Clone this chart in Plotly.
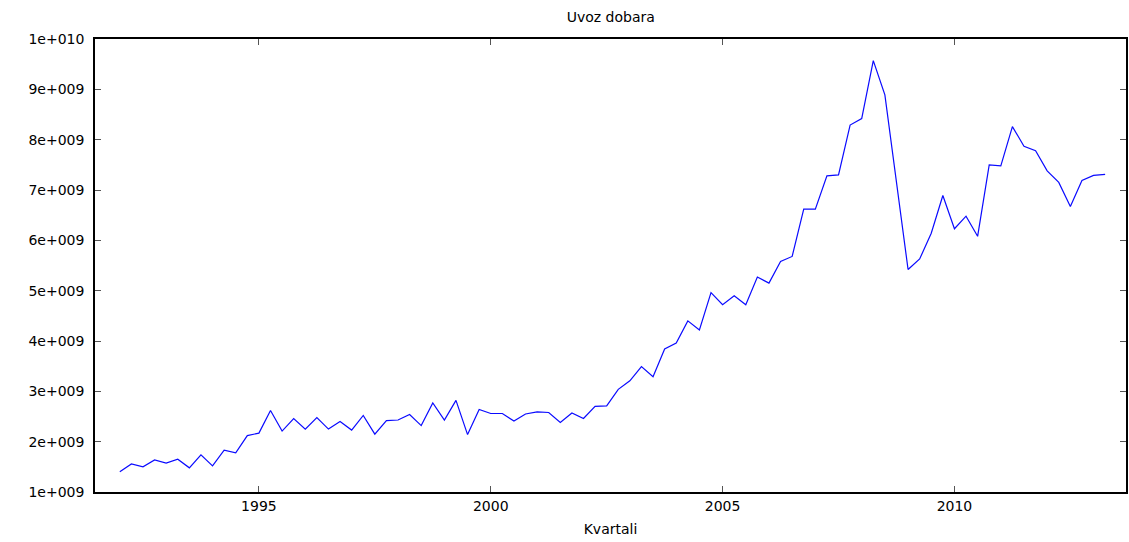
import plotly.graph_objects as go

# quarterly imports of goods, 1992Q1 .. 2013Q2 (values in units of 1e9)
years = list(range(1992, 2014))
uvoz_e9 = [
    1.40, 1.556, 1.50, 1.636,
    1.576, 1.65, 1.48, 1.74,
    1.52, 1.83, 1.78, 2.12,
    2.17, 2.62, 2.21, 2.46,
    2.25, 2.48, 2.25, 2.40,
    2.23, 2.52, 2.15, 2.42,
    2.43, 2.54, 2.32, 2.77,
    2.43, 2.82, 2.14, 2.64,
    2.56, 2.56, 2.41, 2.55,
    2.59, 2.58, 2.38, 2.57,
    2.46, 2.70, 2.71, 3.04,
    3.21, 3.49, 3.29, 3.84,
    3.96, 4.40, 4.22, 4.96,
    4.72, 4.90, 4.72, 5.27,
    5.15, 5.58, 5.68, 6.62,
    6.62, 7.28, 7.30, 8.29,
    8.42, 9.57, 8.89, 7.15,
    5.42, 5.63, 6.14, 6.89,
    6.23, 6.48, 6.08, 7.50,
    7.48, 8.26, 7.87, 7.78,
    7.38, 7.15, 6.67, 7.19,
    7.29, 7.31,
]
quarters = [y + q / 4 for y in years for q in range(4)][:len(uvoz_e9)]
uvoz = [v * 1e9 for v in uvoz_e9]

y_ticks = [1e9, 2e9, 3e9, 4e9, 5e9, 6e9, 7e9, 8e9, 9e9, 1e10]
y_labels = ["1e+009", "2e+009", "3e+009", "4e+009", "5e+009",
            "6e+009", "7e+009", "8e+009", "9e+009", "1e+010"]
x_ticks = [1995, 2000, 2005, 2010]

fig = go.Figure()
fig.add_trace(go.Scatter(
    x=quarters, y=uvoz,
    mode="lines",
    line=dict(color="#0a0aff", width=1.2),
    showlegend=False,
))

axis_style = dict(
    showline=True, linecolor="black", linewidth=1.5,
    mirror="allticks", ticks="inside", ticklen=6,
    tickcolor="#555555", tickwidth=1,
    showgrid=False, zeroline=False,
)

fig.update_layout(
    width=1129, height=542,
    margin=dict(l=95, r=1, t=39, b=50),
    paper_bgcolor="white", plot_bgcolor="white",
    font=dict(family="DejaVu Sans", size=14, color="black"),
    title=dict(text="Uvoz dobara", x=0.541, xanchor="center",
               y=0.968, yanchor="middle", font=dict(size=14)),
    xaxis=dict(range=[1991.465, 2013.70], tickvals=x_ticks,
               title=dict(text="Kvartali", standoff=12, font=dict(size=14)),
               **axis_style),
    yaxis=dict(range=[1e9, 1e10], tickvals=y_ticks, ticktext=y_labels,
               ticklabelstandoff=6, **axis_style),
)

fig.write_html("out.html", config={"displayModeBar": False},
               post_script="document.body.style.margin='0';")
